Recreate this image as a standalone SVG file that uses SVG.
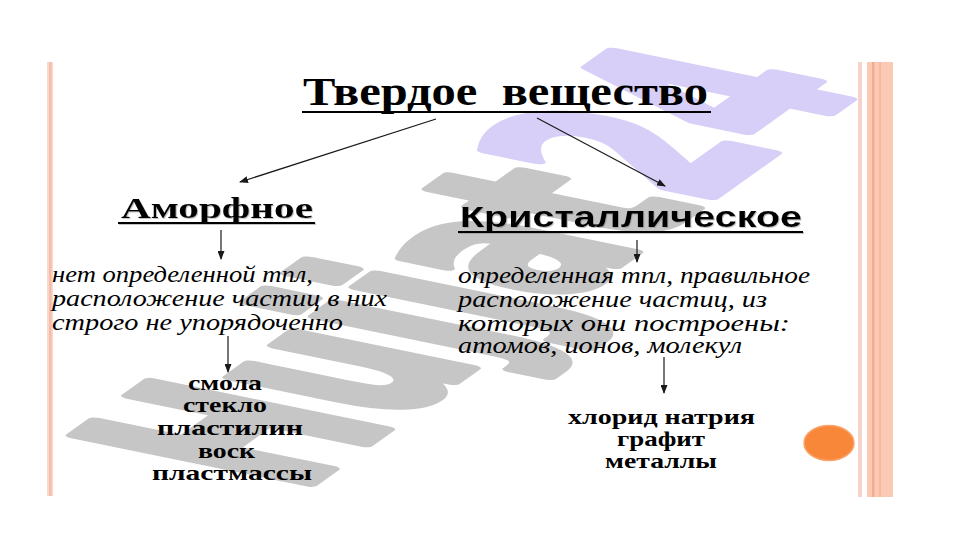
<svg xmlns="http://www.w3.org/2000/svg" width="961" height="540" viewBox="0 0 961 540">
<style>
.ser{font-family:"Liberation Serif","Times New Roman",serif;fill:#000}
.b{font-weight:bold}
.it{font-style:italic}
.sans{font-family:"Liberation Sans",Arial,sans-serif;font-weight:bold;fill:#000}
.ul{stroke:#000;stroke-width:2}
.con{stroke:#1a1a1a;stroke-width:1.2;fill:none;marker-end:url(#ah)}
</style>
<defs>
<marker id="ah" markerUnits="userSpaceOnUse" markerWidth="9" markerHeight="7" refX="8" refY="3.5" orient="auto">
<path d="M0,0 L9,3.5 L0,7 z" fill="#1a1a1a"/>
</marker>
<filter id="sh" x="-5%" y="-20%" width="110%" height="140%">
<feDropShadow dx="1" dy="1" stdDeviation="0.5" flood-color="#888" flood-opacity="0.5"/>
</filter>
</defs>
<rect width="961" height="540" fill="#fff"/>
<g id="watermark">
<text transform="matrix(1.19 -0.85 3.22 0.66 298 492)" font-family="DejaVu Sans" font-weight="bold" font-size="100" fill="#c6c6c6" stroke="#c6c6c6" stroke-width="5" stroke-linejoin="round">Hujjat<tspan fill="#d7cff7" stroke="#d7cff7">24</tspan></text>
</g>
<g id="frame">
<rect x="47" y="62" width="6" height="434" fill="#fbd8ce"/>
<rect x="49" y="62" width="2.5" height="434" fill="#f5bcaa"/>
<rect x="858" y="62" width="4" height="435" fill="#f6d3ca"/>
<rect x="867" y="62" width="26" height="435" fill="#fcc9b4"/>
<rect x="872" y="62" width="2.5" height="435" fill="#f0ae8e"/>
<rect x="879" y="62" width="2" height="435" fill="#f4b99e"/>
<ellipse cx="829" cy="443" rx="25" ry="17.5" fill="#f9873a" stroke="#f8a66c" stroke-width="1.5"/>
</g>
<g id="connectors">
<line class="con" x1="436" y1="119" x2="240" y2="182"/>
<line class="con" x1="537" y1="118" x2="665" y2="186"/>
<line class="con" x1="221" y1="230" x2="221" y2="259"/>
<line class="con" x1="637" y1="240" x2="637" y2="262"/>
<line class="con" x1="228" y1="336" x2="228" y2="372"/>
<line class="con" x1="664" y1="357" x2="664" y2="393"/>
</g>
<g id="title">
<text class="ser b" x="303" y="105" font-size="41" textLength="405" lengthAdjust="spacingAndGlyphs" xml:space="preserve">Твердое  вещество</text>
<line class="ul" x1="302" y1="112" x2="711" y2="112"/>
</g>
<g id="amorph" filter="url(#sh)">
<text class="ser b" x="121" y="218" font-size="29" textLength="192" lengthAdjust="spacingAndGlyphs">Аморфное</text>
<line class="ul" x1="118" y1="223" x2="315" y2="223"/>
</g>
<g id="crystal" filter="url(#sh)">
<text class="sans" x="460" y="227" font-size="30" textLength="342" lengthAdjust="spacingAndGlyphs">Кристаллическое</text>
<line class="ul" x1="458" y1="232" x2="803" y2="232"/>
</g>
<g id="amorph-desc" font-size="24">
<text class="ser it" x="52" y="282" textLength="261" lengthAdjust="spacingAndGlyphs">нет определенной тпл,</text>
<text class="ser it" x="52" y="306" textLength="335" lengthAdjust="spacingAndGlyphs">расположение частиц в них</text>
<text class="ser it" x="52" y="330" textLength="291" lengthAdjust="spacingAndGlyphs">строго не упорядоченно</text>
</g>
<g id="crystal-desc" font-size="24">
<text class="ser it" x="458" y="283" textLength="352" lengthAdjust="spacingAndGlyphs">определенная тпл, правильное</text>
<text class="ser it" x="458" y="307" textLength="309" lengthAdjust="spacingAndGlyphs">расположение частиц, из</text>
<text class="ser it" x="458" y="331" textLength="332" lengthAdjust="spacingAndGlyphs">которых они построены:</text>
<text class="ser it" x="458" y="353" textLength="284" lengthAdjust="spacingAndGlyphs">атомов, ионов, молекул</text>
</g>
<g id="amorph-examples" font-size="22">
<text class="ser b" x="188" y="390" textLength="74" lengthAdjust="spacingAndGlyphs">смола</text>
<text class="ser b" x="183" y="412" textLength="84" lengthAdjust="spacingAndGlyphs">стекло</text>
<text class="ser b" x="157" y="435" textLength="146" lengthAdjust="spacingAndGlyphs">пластилин</text>
<text class="ser b" x="198" y="458" textLength="57" lengthAdjust="spacingAndGlyphs">воск</text>
<text class="ser b" x="152" y="480" textLength="160" lengthAdjust="spacingAndGlyphs">пластмассы</text>
</g>
<g id="crystal-examples" font-size="22">
<text class="ser b" x="568" y="424" textLength="187" lengthAdjust="spacingAndGlyphs">хлорид натрия</text>
<text class="ser b" x="617" y="446" textLength="88" lengthAdjust="spacingAndGlyphs">графит</text>
<text class="ser b" x="605" y="468" textLength="112" lengthAdjust="spacingAndGlyphs">металлы</text>
</g>
</svg>
